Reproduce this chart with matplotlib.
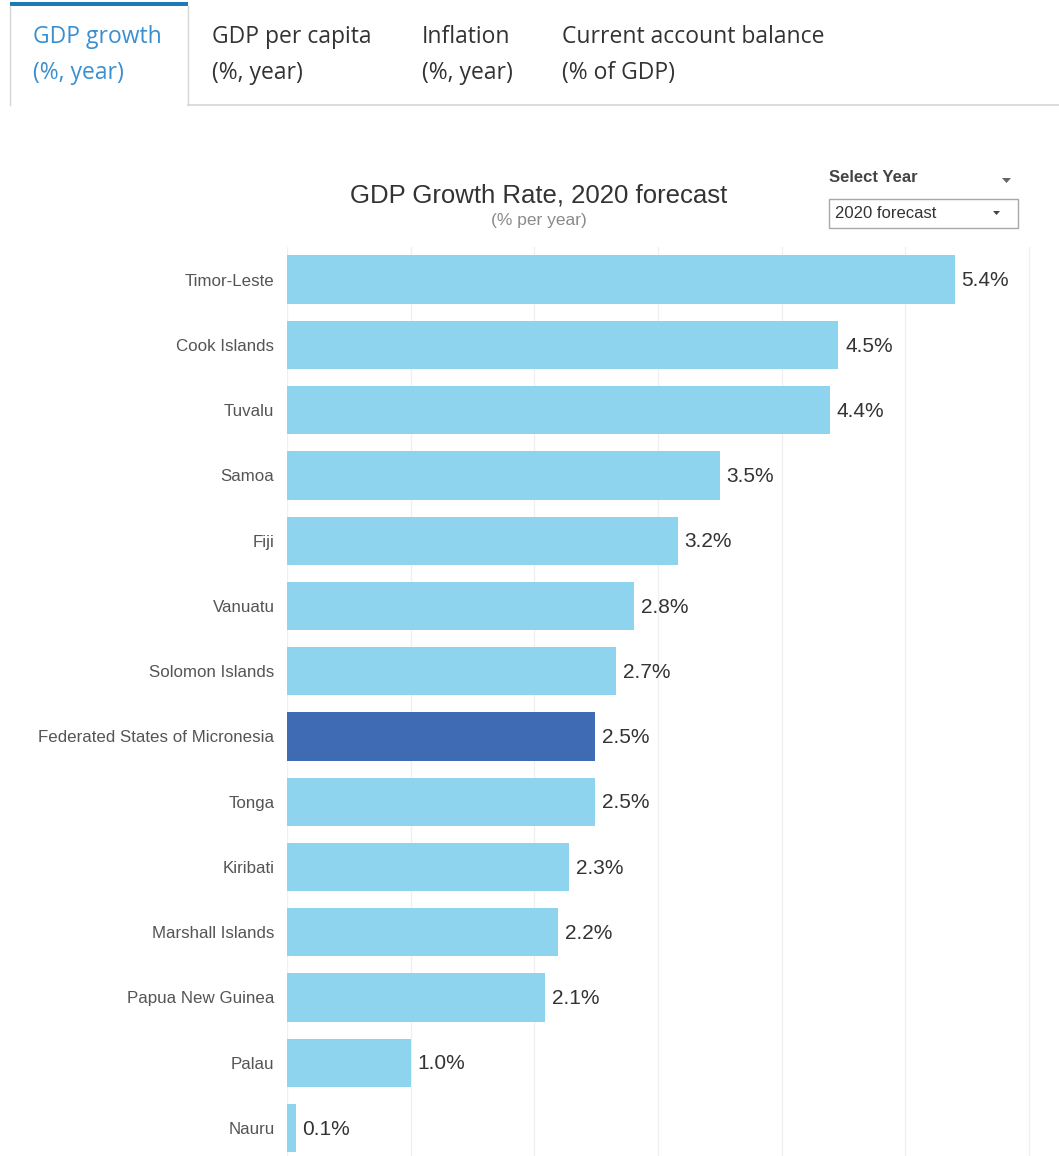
import matplotlib
matplotlib.use('Agg')
import matplotlib.pyplot as plt
from matplotlib.patches import Rectangle, Polygon
from matplotlib.lines import Line2D

countries = ['Timor-Leste', 'Cook Islands', 'Tuvalu', 'Samoa', 'Fiji', 'Vanuatu',
             'Solomon Islands', 'Federated States of Micronesia', 'Tonga', 'Kiribati',
             'Marshall Islands', 'Papua New Guinea', 'Palau', 'Nauru']
# bar lengths (labels are rounded to one decimal)
growth = [5.40, 4.46, 4.39, 3.50, 3.16, 2.81, 2.66, 2.49, 2.49, 2.28, 2.19, 2.09, 1.00, 0.07]
highlight = 'Federated States of Micronesia'
tabs = [('GDP growth', '(%, year)'), ('GDP per capita', '(%, year)'),
        ('Inflation', '(%, year)'), ('Current account balance', '(% of GDP)')]

W, H = 1059, 1156
plt.rcParams['font.family'] = ['Liberation Sans', 'DejaVu Sans']
fig = plt.figure(figsize=(W / 100, H / 100), dpi=100)


def fx(px):
    return px / W


def fy(py):
    return 1 - py / H


# tab strip
tab_x = [33, 212, 422, 562]
for i, ((t1, t2), x) in enumerate(zip(tabs, tab_x)):
    col = '#3a8fd0' if i == 0 else '#333333'
    fig.text(fx(x), fy(37), t1, fontsize=16.5, color=col, va='center', ha='left',
             family=['Open Sans', 'DejaVu Sans'])
    fig.text(fx(x), fy(73), t2, fontsize=16.5, color=col, va='center', ha='left',
             family=['Open Sans', 'DejaVu Sans'])
fig.add_artist(Rectangle((fx(10), fy(6)), fx(178), 4 / H, transform=fig.transFigure,
                         color='#1a7bb8', lw=0))
for x in (10, 188):
    fig.add_artist(Line2D([fx(x), fx(x)], [fy(6), fy(105)], transform=fig.transFigure,
                          color='#d6d6d6', lw=1))
fig.add_artist(Line2D([fx(188), 1], [fy(105), fy(105)], transform=fig.transFigure,
                      color='#d6d6d6', lw=1.2))

# title
fig.text(fx(539), fy(195), 'GDP Growth Rate, 2020 forecast', fontsize=18.5, color='#333333',
         ha='center', va='center')
fig.text(fx(539), fy(221), '(% per year)', fontsize=12.5, color='#8a8a8a',
         ha='center', va='center')

# year selector
fig.text(fx(829), fy(178), 'Select Year', fontsize=12, fontweight='bold', color='#444444',
         ha='left', va='center')
fig.add_artist(Polygon([[fx(1002), fy(178)], [fx(1011), fy(178)], [fx(1006.5), fy(183)]],
                       transform=fig.transFigure, color='#666666', lw=0))
fig.add_artist(Rectangle((fx(829), fy(228)), fx(189), 29 / H, transform=fig.transFigure,
                         fill=False, ec='#a8a8a8', lw=1))
fig.text(fx(835), fy(213), '2020 forecast', fontsize=12, color='#333333',
         ha='left', va='center')
fig.add_artist(Polygon([[fx(993), fy(211)], [fx(1000), fy(211)], [fx(996.5), fy(215)]],
                       transform=fig.transFigure, color='#444444', lw=0))

# bar chart
ax = fig.add_axes([fx(287), 0, fx(1035) - fx(287), fy(247)])
ypos = list(range(len(countries)))
colors = ['#3f6bb5' if c == highlight else '#8fd4ef' for c in countries]
ax.barh(ypos, growth, height=0.74, color=colors, zorder=2)
for y, v in zip(ypos, growth):
    ax.text(v + 0.055, y + 0.02, f'{v:.1f}%', fontsize=15, color='#333333',
            va='center', ha='left')
ax.set_xlim(0, 6.05)
ax.set_ylim(13.43, -0.5)
ax.set_xticks(range(0, 7))
ax.xaxis.grid(True, color='#f0f0f0', lw=1, zorder=0)
ax.set_yticks(ypos)
ax.set_yticklabels(countries, fontsize=12.2, color='#555555')
ax.tick_params(axis='y', length=0, pad=9)
ax.tick_params(axis='x', length=0, labelbottom=False)
for s in ax.spines.values():
    s.set_visible(False)

plt.savefig('out.png', dpi=100)
plt.close()
